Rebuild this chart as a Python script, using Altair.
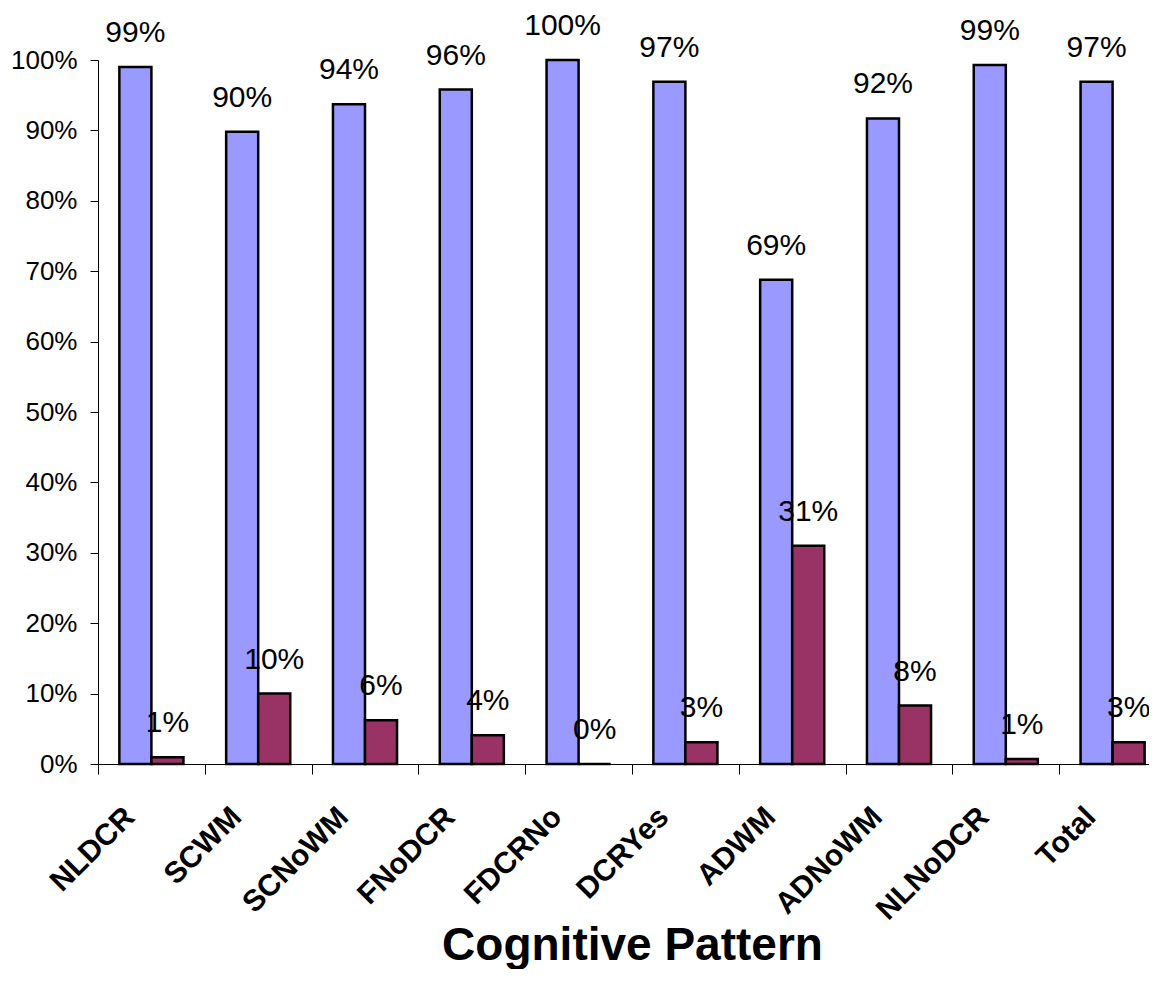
import altair as alt
import pandas as pd

categories = ["NLDCR", "SCWM", "SCNoWM", "FNoDCR", "FDCRNo", "DCRYes", "ADWM", "ADNoWM", "NLNoDCR", "Total"]
series_names = ["A", "B"]
blue_values = [0.99, 0.898, 0.937, 0.958, 1.0, 0.969, 0.688, 0.917, 0.993, 0.969]
maroon_values = [0.0095, 0.10, 0.062, 0.041, 0.0, 0.031, 0.31, 0.083, 0.007, 0.031]
colors = ["#9999FF", "#993366"]
y_ticks = [0.0, 0.1, 0.2, 0.3, 0.4, 0.5, 0.6, 0.7, 0.8, 0.9, 1.0]

rows = []
for c, b, m in zip(categories, blue_values, maroon_values):
    rows.append({"pattern": c, "series": series_names[0], "value": b})
    rows.append({"pattern": c, "series": series_names[1], "value": m})
df = pd.DataFrame(rows)

FONT = "Liberation Sans"
STEP = 106.8

x_enc = alt.X(
    "pattern:N",
    sort=categories,
    scale=alt.Scale(paddingInner=0.4, paddingOuter=0.2, range=[0, STEP * 10]),
    axis=alt.Axis(
        title="Cognitive Pattern",
        titleFont=FONT,
        titleFontSize=46,
        titleFontWeight="bold",
        titleColor="black",
        titleY=195,
        titleBaseline="alphabetic",
        titleX=534,
        titleAnchor="start",
        titleAlign="center",
        labelFont=FONT,
        labelFontSize=30,
        labelFontWeight="bold",
        labelColor="black",
        labelAngle=-45,
        labelAlign="right",
        labelBaseline="middle",
        labelOffset=STEP / 2 - 22,
        labelPadding=38,
        labelLimit=400,
        labelOverlap=False,
        tickOffset=-STEP / 2,
        tickSize=10,
        tickColor="black",
        domainColor="black",
        grid=False,
    ),
)
xoff_enc = alt.XOffset("series:N", sort=series_names, scale=alt.Scale(paddingInner=0, paddingOuter=0))
y_enc = alt.Y(
    "value:Q",
    scale=alt.Scale(domain=[0, 1]),
    axis=alt.Axis(
        title=None,
        values=y_ticks,
        format=".0%",
        labelFont=FONT,
        labelFontSize=26,
        labelColor="black",
        labelPadding=13,
        tickSize=8,
        tickColor="black",
        domainColor="black",
        grid=False,
    ),
)

base = alt.Chart(df)
bars = base.mark_bar(stroke="black", strokeWidth=2.5).encode(
    x=x_enc,
    xOffset=xoff_enc,
    y=y_enc,
    color=alt.Color("series:N", scale=alt.Scale(domain=series_names, range=colors), legend=None),
)
labels = base.mark_text(dy=-25, baseline="alphabetic", align="center", font=FONT, fontSize=30, color="black").encode(
    x=alt.X("pattern:N", sort=categories),
    xOffset=alt.XOffset("series:N", sort=series_names),
    y=alt.Y("value:Q"),
    text=alt.Text("value:Q", format=".0%"),
)

chart = (
    alt.layer(bars, labels)
    .properties(
        width=1051,
        height=704,
        autosize=alt.AutoSizeParams(type="none"),
        padding={"left": 90, "top": 52, "right": 0, "bottom": 205},
        background="white",
    )
    .configure_view(strokeWidth=0)
)

chart.save("out.html", embed_options={"renderer": "svg", "actions": False})
